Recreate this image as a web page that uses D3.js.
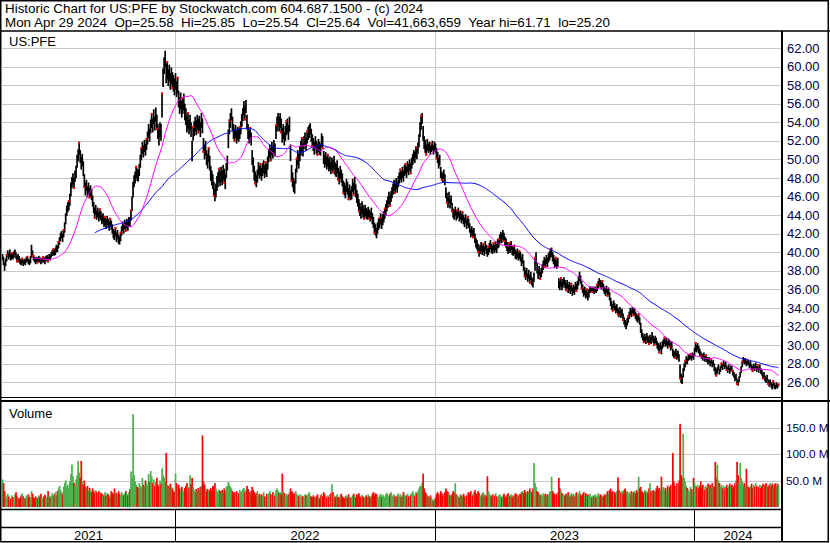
<!DOCTYPE html>
<html><head><meta charset="utf-8">
<script src="https://cdn.jsdelivr.net/npm/d3@7"></script>
<style>
html,body{margin:0;padding:0;background:#fff;}
svg{display:block;font-family:"Liberation Sans",Arial,sans-serif;}
text{white-space:pre;}
</style></head><body>
<svg id="c" width="830" height="543"></svg>
<script>
const headerLine1 = "Historic Chart for US:PFE by Stockwatch.com 604.687.1500 - (c) 2024";
const headerLine2 = "Mon Apr 29 2024  Op=25.58  Hi=25.85  Lo=25.54  Cl=25.64  Vol=41,663,659  Year hi=61.71  lo=25.20";
const symbol = "US:PFE";
const volumeTitle = "Volume";
const yearLabels = ["2021","2022","2023","2024"];
const yearStartIndex = [0,167,418,668];
const priceTicks = [62,60,58,56,54,52,50,48,46,44,42,40,38,36,34,32,30,28,26];
const volumeTicks = [50,100,150];
const maShort = 30, maLong = 90;

const lows = [
39.1,38.6,38.0,38.5,39.0,39.5,39.2,39.5,39.1,39.3,
39.2,39.4,39.7,39.3,38.9,39.2,38.9,38.7,38.6,38.8,
38.5,38.7,38.6,38.9,39.0,38.7,38.6,38.8,39.4,39.5,
39.1,38.9,38.7,38.9,38.8,39.0,38.9,38.7,38.8,39.0,
38.9,38.7,39.0,39.1,38.9,39.2,39.1,39.4,39.6,39.7,
39.6,39.7,40.0,40.0,40.4,40.8,41.2,41.5,41.1,41.6,
42.1,43.0,43.9,44.3,44.5,45.0,46.0,46.9,47.3,46.8,
47.6,48.0,49.1,49.8,50.5,49.6,48.9,49.3,48.2,46.9,
46.1,46.6,45.9,46.3,45.8,46.0,45.6,44.9,44.2,43.6,
44.0,43.5,43.8,43.3,43.7,43.4,43.0,43.2,42.7,42.9,
42.5,42.9,42.6,42.3,42.7,42.4,42.0,41.5,41.3,41.7,
41.1,41.4,40.9,40.8,41.2,41.8,42.3,42.0,42.5,42.2,
42.6,42.3,42.8,42.7,43.4,44.4,45.9,47.0,47.4,48.0,
47.7,47.6,48.2,49.1,49.9,50.6,50.2,50.8,50.4,51.0,
51.6,52.3,51.9,52.8,53.4,52.9,53.8,53.1,54.1,53.2,
52.2,51.5,52.4,52.0,54.5,57.8,59.2,60.0,58.2,58.6,
57.9,58.4,57.5,58.1,57.6,57.3,56.9,57.5,56.7,57.1,
55.6,54.9,55.4,54.5,54.9,55.3,54.2,53.7,52.9,53.3,
52.7,53.2,52.4,49.8,52.0,52.5,53.0,52.6,53.2,52.8,
53.1,52.4,53.4,52.8,50.7,50.0,50.4,49.4,49.0,49.7,
48.8,47.7,47.2,46.8,46.0,45.5,45.9,46.6,47.0,47.5,
47.1,47.6,47.2,47.8,47.4,46.8,48.0,48.8,51.2,52.7,
53.4,54.2,53.0,52.2,51.9,52.3,51.7,52.1,51.9,52.2,
52.7,53.5,54.1,54.8,54.2,55.0,53.2,52.2,51.7,52.1,
51.5,49.4,48.6,47.7,47.3,47.0,47.5,48.3,47.9,48.2,
47.7,48.2,48.5,48.0,48.4,48.1,48.9,49.7,50.2,49.8,
50.5,50.1,50.7,50.3,52.2,53.0,53.6,53.0,53.4,52.8,
51.8,52.2,51.5,52.0,52.6,52.8,52.1,53.0,49.8,47.6,
47.0,46.5,46.3,47.4,48.6,49.4,49.0,49.8,50.4,50.8,
50.3,51.1,51.5,50.9,51.7,52.1,52.3,52.7,51.9,51.3,
50.9,50.5,51.1,50.6,50.4,50.8,50.5,50.4,51.3,51.1,
49.5,49.1,49.4,48.9,49.2,48.7,48.9,48.4,48.8,48.5,
49.0,48.3,48.1,48.5,47.7,47.3,47.9,47.5,47.1,46.3,
46.1,45.8,46.5,46.2,45.6,45.9,45.6,45.7,46.5,46.1,
46.7,45.9,45.3,44.9,44.3,43.9,43.6,44.1,43.7,43.5,
43.9,43.6,43.5,43.7,43.5,43.3,43.6,43.0,42.6,42.0,
41.8,41.5,42.0,42.4,42.6,43.0,42.5,42.9,43.2,43.6,
44.0,44.4,44.8,45.2,44.9,45.4,45.8,46.2,46.6,46.3,
46.8,46.4,47.0,47.4,47.8,47.5,48.0,47.6,48.2,48.4,
48.0,48.6,48.3,48.8,48.4,49.0,49.4,49.8,49.6,50.2,
50.0,50.6,51.3,52.4,53.2,53.8,52.0,51.1,50.7,50.4,
51.0,50.7,50.9,50.5,50.8,51.0,50.5,50.9,50.7,50.0,
49.6,49.0,49.3,48.0,47.7,47.5,47.9,47.2,45.8,45.2,
44.8,45.3,44.7,45.1,44.3,43.7,43.5,43.9,43.4,43.6,
43.8,43.3,43.5,43.1,43.4,43.0,42.7,43.1,42.5,42.9,
42.6,42.1,41.6,41.8,41.5,41.7,41.0,40.5,40.3,39.9,
39.5,39.8,40.1,39.7,40.0,39.6,40.2,39.8,39.5,39.7,
40.0,40.3,39.9,39.8,40.1,39.9,40.2,39.9,40.4,40.5,
40.9,41.2,41.0,41.4,41.1,40.7,40.5,40.1,39.8,40.1,
39.9,40.2,39.7,39.6,39.8,39.3,39.2,39.4,39.1,39.3,
39.0,38.5,38.8,38.0,37.3,37.0,37.3,36.8,37.1,36.6,
37.0,36.4,36.2,36.8,38.0,38.7,37.7,37.1,37.5,37.0,
37.3,37.7,38.1,38.5,38.3,38.7,38.4,38.9,39.1,39.4,
39.5,39.0,38.7,38.3,38.5,38.2,38.4,36.1,35.9,36.3,
35.9,36.2,36.5,36.1,35.8,36.1,35.6,35.9,35.5,35.8,
35.3,35.6,35.4,35.9,35.7,36.0,36.4,36.9,36.6,36.0,
35.6,35.2,35.4,35.0,35.2,34.8,35.1,35.6,35.7,35.6,
35.7,35.5,35.7,35.6,35.8,36.1,36.4,36.2,36.0,36.2,
35.8,35.5,35.3,35.6,35.2,35.4,34.8,34.2,33.8,33.6,
34.0,33.7,33.4,33.6,33.2,33.0,33.3,32.9,33.1,32.6,
32.2,31.9,31.7,32.1,32.4,32.8,33.2,33.0,33.4,33.1,
33.2,32.8,32.6,32.4,32.6,32.2,31.3,30.8,30.5,30.2,
30.4,30.1,30.5,30.2,30.0,30.3,30.1,30.5,30.2,29.9,
30.2,30.0,29.6,29.4,29.1,29.5,29.0,29.6,29.8,30.1,
29.8,30.0,29.6,29.9,29.7,29.4,29.6,28.8,28.6,28.5,
28.8,28.4,28.6,28.2,26.3,25.9,25.8,26.5,27.2,27.6,
28.0,27.9,28.3,28.4,28.5,28.3,28.6,28.4,28.8,29.3,
29.2,29.5,29.1,28.8,28.7,28.5,28.3,28.6,28.2,28.4,
28.1,27.9,28.1,27.7,28.0,27.6,27.8,27.2,26.8,26.6,
26.9,27.3,26.8,27.1,27.5,27.3,27.7,27.4,27.6,27.2,
27.0,27.3,26.9,27.2,27.1,26.7,26.5,26.1,26.3,25.7,
25.6,26.0,26.5,27.0,27.6,28.1,27.9,28.0,27.7,27.9,
27.8,27.5,27.7,27.3,27.1,27.4,27.2,27.5,27.1,27.3,
27.0,27.3,26.9,26.7,26.3,26.5,26.1,25.9,26.2,25.7,
25.5,25.7,25.4,25.2,25.6,25.3,25.2,25.4,25.3,25.54];

const highs = [
39.8,39.5,38.9,39.3,39.8,40.2,39.9,40.3,39.8,40.0,
39.9,40.1,40.3,40.0,39.6,39.8,39.6,39.3,39.2,39.4,
39.1,39.3,39.2,39.5,39.6,39.3,39.2,39.6,40.8,40.2,
39.7,39.5,39.3,39.5,39.4,39.6,39.5,39.3,39.4,39.6,
39.5,39.3,39.6,39.7,39.5,39.8,39.7,40.0,40.2,40.4,
40.3,40.5,40.8,40.7,41.2,41.6,42.1,42.3,42.0,42.5,
43.2,44.2,45.0,45.4,45.6,46.3,47.5,48.1,48.5,48.0,
48.8,49.3,50.5,51.1,51.9,51.0,50.3,50.6,49.8,48.4,
47.5,47.8,47.1,47.5,47.0,47.2,46.8,46.1,45.4,44.8,
45.1,44.5,44.8,44.3,44.7,44.4,44.0,44.2,43.7,43.9,
43.5,43.9,43.6,43.3,43.7,43.4,43.0,42.5,42.3,42.7,
42.1,42.4,41.9,41.7,42.2,42.8,43.3,43.0,43.5,43.2,
43.6,43.3,43.8,43.7,44.6,46.0,47.6,48.3,48.7,49.3,
49.0,48.9,49.5,50.5,51.3,51.9,51.5,52.1,51.7,52.3,
53.0,53.8,53.3,54.3,55.0,54.4,55.4,54.6,55.6,54.8,
53.8,53.2,54.0,53.8,57.2,59.8,61.0,61.7,60.3,60.6,
59.7,60.2,59.3,59.9,59.4,59.1,58.7,59.3,58.4,58.9,
57.4,56.7,57.2,56.3,56.7,57.1,56.0,55.5,54.7,55.1,
54.3,54.8,54.0,52.0,53.6,54.1,54.6,54.2,54.8,54.4,
54.7,54.0,55.0,54.4,52.3,51.6,52.0,51.0,50.6,51.3,
50.4,49.3,48.8,48.4,47.6,46.8,47.4,48.2,48.6,49.1,
48.7,49.2,48.8,49.4,49.0,48.4,49.6,50.4,53.2,54.3,
55.0,55.5,54.6,53.8,53.3,53.7,53.1,53.5,53.3,53.6,
54.1,54.9,55.5,56.3,55.8,56.4,54.8,53.8,53.1,53.5,
52.9,51.0,50.2,49.3,48.7,48.3,48.9,49.7,49.3,49.6,
49.1,49.6,49.9,49.4,49.8,49.5,50.3,51.1,51.6,51.2,
51.9,51.5,52.1,51.7,53.8,54.6,55.0,54.6,55.0,54.4,
53.4,53.8,52.9,53.6,54.2,54.4,53.7,54.6,51.6,49.4,
48.6,48.0,47.7,49.0,50.2,51.0,50.6,51.4,52.0,52.4,
51.7,52.5,52.9,52.3,53.1,53.5,53.7,53.9,53.3,52.7,
52.3,51.9,52.5,52.0,51.7,52.2,51.9,51.7,52.8,52.5,
50.9,50.5,50.8,50.3,50.6,50.1,50.3,49.7,50.2,49.9,
50.4,49.7,49.5,49.9,49.1,48.7,49.3,48.9,48.5,47.7,
47.5,47.2,47.9,47.6,46.9,47.3,46.7,47.1,47.9,47.5,
48.1,47.3,46.7,46.3,45.7,45.3,44.9,45.5,45.1,44.7,
45.1,44.8,44.6,44.9,44.6,44.4,44.8,44.2,43.8,43.2,
43.0,42.6,43.2,43.6,43.8,44.2,43.7,44.1,44.4,44.8,
45.2,45.6,46.0,46.5,46.1,46.6,47.0,47.4,47.8,47.5,
48.0,47.6,48.2,48.6,49.0,48.7,49.2,48.8,49.4,49.6,
49.2,49.8,49.5,50.0,49.6,50.2,50.6,51.0,50.8,51.4,
51.2,51.8,52.7,54.0,54.8,55.0,53.6,52.5,52.1,51.6,
52.2,51.7,51.9,51.5,51.8,52.0,51.5,51.9,51.7,51.2,
50.8,50.2,50.5,49.2,48.7,48.5,48.9,48.4,47.0,46.4,
46.0,46.5,45.7,46.1,45.3,44.7,44.5,44.9,44.4,44.6,
44.8,44.3,44.5,44.1,44.4,44.0,43.7,44.1,43.5,43.9,
43.6,43.1,42.5,42.8,42.4,42.6,42.0,41.5,41.3,40.9,
40.5,40.8,41.1,40.7,41.0,40.6,41.2,40.8,40.4,40.7,
41.0,41.3,40.9,40.7,41.1,40.8,41.2,40.9,41.4,41.5,
41.9,42.2,42.0,42.4,42.1,41.7,41.5,41.1,40.8,41.1,
40.9,41.2,40.7,40.5,40.8,40.3,40.1,40.4,40.0,40.2,
40.0,39.5,39.8,39.1,38.4,38.0,38.3,37.7,38.1,37.5,
37.9,37.3,37.1,37.8,39.5,40.0,38.8,38.1,38.5,37.9,
38.3,38.7,39.1,39.5,39.3,39.7,39.4,39.9,40.1,40.4,
40.5,40.0,39.7,39.3,39.5,39.1,39.4,37.2,36.9,37.3,
36.8,37.1,37.3,37.0,36.7,37.0,36.5,36.8,36.4,36.7,
36.2,36.5,36.3,36.8,36.6,36.9,37.4,37.9,37.5,36.9,
36.5,36.1,36.3,35.9,36.1,35.7,36.0,36.3,36.3,36.2,
36.3,36.1,36.3,36.2,36.6,36.9,37.2,37.0,36.8,37.0,
36.6,36.3,36.1,36.4,36.0,36.2,35.7,35.1,34.7,34.4,
34.8,34.5,34.2,34.4,34.0,33.8,34.1,33.7,33.9,33.4,
33.0,32.7,32.5,32.9,33.2,33.6,34.0,33.8,34.1,33.9,
34.0,33.6,33.4,33.2,33.4,33.0,32.4,31.7,31.3,31.0,
31.2,30.9,31.3,31.0,30.8,31.1,30.9,31.4,31.0,30.7,
31.0,30.8,30.4,30.2,30.0,30.3,29.9,30.4,30.6,30.9,
30.6,30.8,30.4,30.7,30.5,30.2,30.4,29.6,29.4,29.3,
29.6,29.2,29.4,29.0,27.9,26.9,26.7,27.5,28.0,28.4,
28.8,28.6,29.0,29.0,29.1,28.9,29.2,29.0,29.7,30.3,
30.0,30.2,29.9,29.6,29.3,29.1,28.9,29.2,28.8,29.0,
28.7,28.5,28.7,28.3,28.6,28.2,28.4,28.0,27.6,27.4,
27.6,27.9,27.4,27.7,28.1,27.9,28.3,28.0,28.2,27.8,
27.6,27.9,27.5,27.8,27.7,27.3,27.1,26.7,26.9,26.4,
26.2,26.6,27.1,27.7,28.3,28.7,28.5,28.6,28.3,28.5,
28.4,28.1,28.3,27.9,27.7,28.0,27.8,28.1,27.7,27.9,
27.6,27.9,27.5,27.3,26.9,27.1,26.7,26.5,26.8,26.3,
26.1,26.3,26.0,25.8,26.2,25.9,25.7,26.0,25.8,25.85];

const volumes = [
52,45,30,22,18,25,20,17,15,22,
19,16,24,28,20,17,15,18,22,26,
20,17,16,22,18,24,19,16,30,25,
18,16,20,15,17,22,19,25,18,16,
20,23,17,19,30,22,18,21,26,20,
24,28,22,30,35,40,32,28,25,38,
45,50,38,42,35,48,62,80,58,45,
40,52,60,87,65,55,87,48,42,50,
38,34,40,30,36,32,28,35,30,26,
32,28,24,30,22,27,25,20,23,28,
21,26,24,19,22,30,27,24,35,28,
26,22,30,25,20,28,24,22,26,30,
25,22,28,34,67,55,175,60,48,42,
38,35,45,40,36,55,42,38,50,45,
40,62,48,68,58,45,52,40,47,55,
42,38,50,44,73,60,55,48,102,42,
40,36,44,38,35,30,28,63,45,38,
42,35,30,38,33,28,36,40,45,38,
35,60,42,55,38,32,28,34,30,36,
32,38,40,135,48,42,36,30,34,28,
32,36,30,40,38,45,35,30,28,33,
30,26,32,28,35,30,38,40,47,42,
38,35,30,26,28,24,30,22,26,32,
28,30,34,36,28,32,40,34,28,25,
30,38,32,28,24,26,30,22,25,20,
24,22,28,20,18,25,22,26,30,24,
22,28,24,20,32,35,30,26,28,24,
63,30,26,22,25,20,24,28,35,30,
28,24,26,30,25,22,20,24,18,22,
20,18,24,22,19,25,28,22,20,18,
22,19,17,20,24,18,16,22,25,20,
28,24,20,18,22,19,24,26,43,28,
22,18,20,24,19,17,22,25,20,18,
16,20,22,18,24,20,17,19,22,25,
20,18,24,22,26,20,18,23,20,17,
19,22,18,24,20,17,21,25,28,22,
26,24,20,18,22,25,19,23,20,18,
24,27,22,20,25,28,22,19,24,20,
18,22,26,20,24,19,22,28,24,20,
22,25,20,18,23,26,30,24,20,28,
26,30,35,40,38,45,63,35,28,25,
22,20,18,22,19,14,12,15,18,25,
28,24,22,30,26,22,25,28,35,30,
28,24,22,20,25,30,28,45,24,22,
20,18,24,22,19,25,20,18,22,26,
28,24,30,25,22,28,32,26,24,30,
26,22,20,25,28,22,24,20,58,30,
25,22,20,24,18,22,26,20,18,22,
24,20,18,22,25,20,18,23,26,22,
20,24,18,22,20,26,24,20,22,25,
24,28,30,26,32,28,25,30,26,35,
30,28,35,83,45,38,30,28,25,22,
24,20,26,22,25,20,24,22,28,30,
57,30,26,24,22,25,28,55,35,30,
26,22,24,20,25,22,28,24,20,26,
22,25,20,24,28,22,26,30,24,20,
25,28,22,26,20,24,22,25,20,18,
22,20,24,18,22,26,20,24,22,18,
20,24,22,26,30,25,32,35,28,30,
26,28,24,30,56,32,26,28,30,25,
32,35,28,30,26,28,24,30,26,28,
30,26,32,28,57,35,38,30,28,26,
32,28,30,26,35,45,30,28,32,30,
28,35,40,32,36,30,57,34,38,32,
36,30,40,34,38,42,36,102,48,40,
38,45,40,50,157,60,55,138,55,48,
40,36,32,28,38,34,30,55,45,40,
38,42,35,40,48,36,42,38,32,40,
36,44,38,42,35,45,40,38,85,55,
80,50,45,38,42,36,40,35,38,42,
36,40,44,38,42,35,40,45,50,85,
60,45,83,55,48,40,45,38,72,42,
38,35,40,44,36,42,38,45,40,35,
38,42,36,40,44,38,42,45,40,38,
42,45,40,44,38,42,45,40,44,42];

const N = lows.length;
const idx = d3.range(N);
const mid = idx.map(i => (lows[i] + highs[i]) / 2);

function sma(arr, n) {
  return arr.map((_, i) => i < n - 1 ? null : d3.mean(arr.slice(i - n + 1, i + 1)));
}
const maS = sma(mid, maShort), maL = sma(mid, maLong);

const svg = d3.select("#c");
const W = 830, H = 543;
const plotL = 2, plotR = 781;
const axisX = 782;

const x = d3.scaleLinear().domain([0, N - 1]).range([2.5, 2.5 + 1.036 * (N - 1)]);
const yP = d3.scaleLinear().domain([26, 62]).range([382.1, 48]);
const yV = d3.scaleLinear().domain([0, 150]).range([507, 427.5]);

const gridColor = "#c8c8c8";
const labelColor = "#00004a";

// header
svg.append("text").attr("x", 5).attr("y", 13).attr("font-size", 13.4).attr("fill", "#000").text(headerLine1);
svg.append("text").attr("x", 5).attr("y", 27).attr("font-size", 13.4).attr("fill", "#000").text(headerLine2);

// clip paths
const defs = svg.append("defs");
defs.append("clipPath").attr("id", "clipP").append("rect").attr("x", plotL).attr("y", 32).attr("width", plotR - plotL).attr("height", 365);
defs.append("clipPath").attr("id", "clipV").append("rect").attr("x", plotL).attr("y", 402).attr("width", plotR - plotL).attr("height", 106);

const sepX = yearStartIndex.slice(1).map(i => x(i) - 0.5);

// price grid
const gP = svg.append("g").attr("clip-path", "url(#clipP)");
gP.selectAll("line.h").data(priceTicks).join("line")
  .attr("x1", plotL).attr("x2", plotR)
  .attr("y1", d => Math.round(yP(d)) + 0.5).attr("y2", d => Math.round(yP(d)) + 0.5)
  .attr("stroke", gridColor).attr("stroke-width", 1);
gP.selectAll("line.v").data(sepX).join("line")
  .attr("x1", d => Math.round(d) + 0.5).attr("x2", d => Math.round(d) + 0.5)
  .attr("y1", 32).attr("y2", 397)
  .attr("stroke", gridColor).attr("stroke-width", 1);

// price bars
gP.append("g").selectAll("line").data(idx).join("line")
  .attr("x1", i => x(i)).attr("x2", i => x(i))
  .attr("y1", i => yP(highs[i])).attr("y2", i => yP(lows[i]))
  .attr("stroke", "#000").attr("stroke-width", 1.7);

// red close marks (weekly)
gP.append("g").selectAll("rect").data(idx.filter(i => i % 5 === 4)).join("rect")
  .attr("x", i => x(i) - 1).attr("width", 2).attr("height", 2)
  .attr("y", i => (mid[i] >= mid[i - 1] ? yP(highs[i]) : yP(lows[i]) - 2))
  .attr("fill", "#ff0000");

// moving averages
const line = d3.line().defined(d => d[1] != null).x(d => x(d[0])).y(d => yP(d[1]));
gP.append("path").datum(idx.map(i => [i, maL[i]])).attr("d", line)
  .attr("fill", "none").attr("stroke", "#0000ff").attr("stroke-width", 1);
gP.append("path").datum(idx.map(i => [i, maS[i]])).attr("d", line)
  .attr("fill", "none").attr("stroke", "#ff00ff").attr("stroke-width", 1);

svg.append("text").attr("x", 9).attr("y", 46).attr("font-size", 13).attr("fill", "#000").text(symbol);

// price axis (labels only)
const axP = svg.append("g").attr("transform", `translate(${axisX},0)`)
  .call(d3.axisRight(yP).tickValues(priceTicks).tickFormat(d3.format(".2f")).tickSize(0).tickPadding(5));
axP.select(".domain").remove();
axP.selectAll("text").attr("font-size", 13).attr("font-family", "Liberation Sans, Arial, sans-serif").attr("fill", labelColor);

// volume grid
const gV = svg.append("g").attr("clip-path", "url(#clipV)");
gV.selectAll("line.h").data(volumeTicks).join("line")
  .attr("x1", plotL).attr("x2", plotR)
  .attr("y1", d => Math.round(yV(d)) + 0.5).attr("y2", d => Math.round(yV(d)) + 0.5)
  .attr("stroke", gridColor);
gV.selectAll("line.v").data(sepX).join("line")
  .attr("x1", d => Math.round(d) + 0.5).attr("x2", d => Math.round(d) + 0.5)
  .attr("y1", 402).attr("y2", 509)
  .attr("stroke", gridColor);

const volColor = i => i === 0 ? "#4cb04c" : (mid[i] > mid[i - 1] ? "#4cb04c" : (mid[i] < mid[i - 1] ? "#ff0000" : "#a8a8a8"));
gV.append("g").selectAll("rect").data(idx).join("rect")
  .attr("x", i => x(i) - 0.8).attr("width", 1.7)
  .attr("y", i => yV(volumes[i])).attr("height", i => yV(0) - yV(volumes[i]))
  .attr("fill", volColor);

svg.append("text").attr("x", 9).attr("y", 418).attr("font-size", 13).attr("fill", "#000").text(volumeTitle);

const axV = svg.append("g").attr("transform", `translate(${axisX},0)`)
  .call(d3.axisRight(yV).tickValues(volumeTicks).tickFormat(d => d.toFixed(1) + " M").tickSize(0).tickPadding(4));
axV.select(".domain").remove();
axV.selectAll("text").attr("font-size", 11.8).attr("font-family", "Liberation Sans, Arial, sans-serif").attr("fill", labelColor);

// year band
const bounds = [plotL].concat(sepX).concat([axisX]);
svg.selectAll("line.ysep").data(sepX).join("line")
  .attr("x1", d => Math.round(d) + 0.5).attr("x2", d => Math.round(d) + 0.5)
  .attr("y1", 509).attr("y2", 541).attr("stroke", "#000");
svg.selectAll("text.year").data(yearLabels).join("text")
  .attr("x", (d, k) => (bounds[k] + bounds[k + 1]) / 2).attr("y", 540)
  .attr("text-anchor", "middle").attr("font-size", 13).attr("fill", "#000").text(d => d);

// frame lines
const frame = svg.append("g").attr("stroke", "#000").attr("fill", "none");
frame.append("line").attr("x1", 0).attr("x2", W).attr("y1", 31).attr("y2", 31).attr("stroke-width", 1.5);
frame.append("line").attr("x1", 0).attr("x2", axisX).attr("y1", 397.5).attr("y2", 397.5).attr("stroke-width", 1);
frame.append("line").attr("x1", 0).attr("x2", W).attr("y1", 401).attr("y2", 401).attr("stroke-width", 2);
frame.append("line").attr("x1", 0).attr("x2", axisX).attr("y1", 509.5).attr("y2", 509.5).attr("stroke-width", 1.5);
frame.append("line").attr("x1", 0).attr("x2", axisX).attr("y1", 527.5).attr("y2", 527.5).attr("stroke-width", 1.5);
frame.append("line").attr("x1", axisX).attr("x2", axisX).attr("y1", 31).attr("y2", 542).attr("stroke-width", 2);
frame.append("rect").attr("x", 0.75).attr("y", 0.75).attr("width", 827.5).attr("height", 541).attr("stroke-width", 1.5);
</script>
</body></html>
